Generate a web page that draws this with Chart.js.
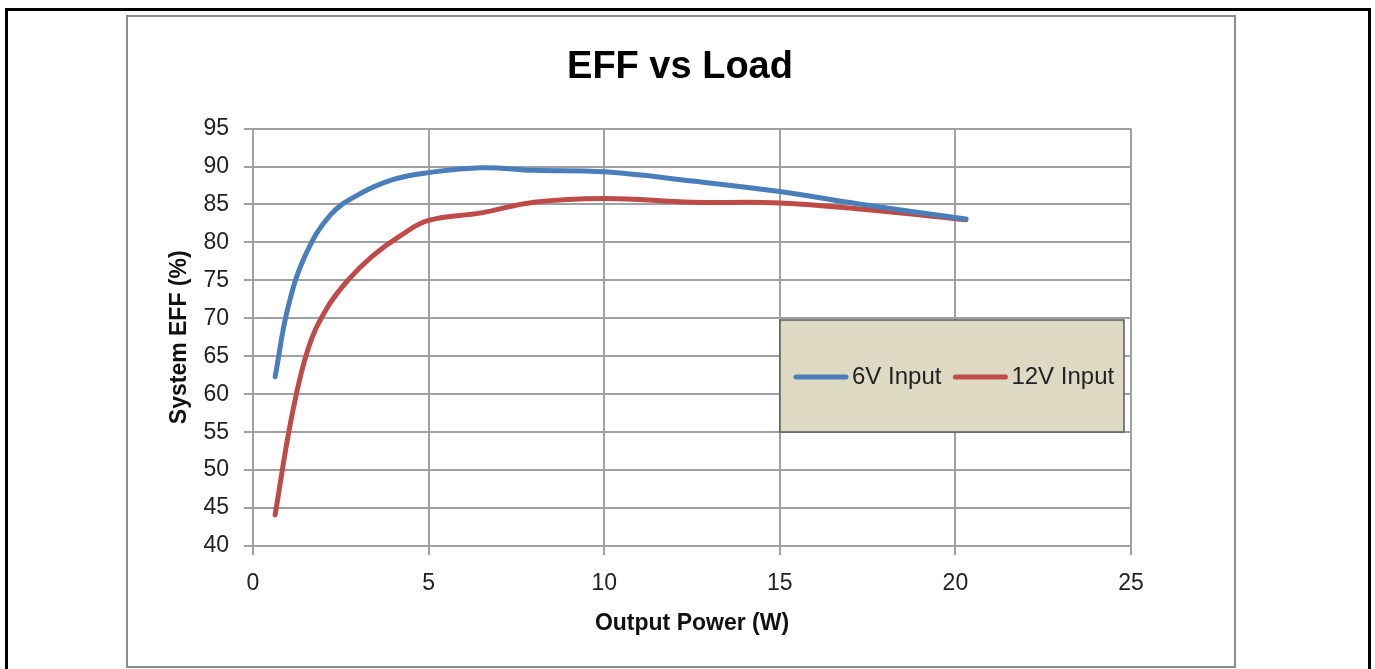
<!DOCTYPE html>
<html>
<head>
<meta charset="utf-8">
<script src="https://cdn.jsdelivr.net/npm/chart.js@4.4.0/dist/chart.umd.min.js"></script>
<style>
  html, body { margin: 0; padding: 0; background: #fff; overflow: hidden; }
  #outer { position: absolute; left: 5px; top: 8px; width: 1360px; height: 700px; border: 3px solid #000; }
  #inner { position: absolute; left: 126px; top: 15px; width: 1106px; height: 649px; border: 2px solid #8c8c8c; }
  #chart { position: absolute; left: 0; top: 0; }
</style>
</head>
<body>
<div id="outer"></div>
<div id="inner"></div>
<canvas id="chart" width="1375" height="669"></canvas>
<script>
// data
var seriesNames = ["6V Input", "12V Input"];
var seriesColors = ["#4a7ebb", "#be4b48"];

var power6V = [0.63, 1.0, 1.5, 2.2, 3.0, 4.0, 5.0, 6.5, 8.0, 10.0, 12.5, 15.0, 17.5, 20.3];
var eff6V   = [62.3, 71.5, 78.4, 83.6, 86.3, 88.3, 89.2, 89.85, 89.5, 89.3, 88.1, 86.7, 84.9, 83.1];

var power12V = [0.63, 1.1, 1.57, 2.1, 2.7, 3.4, 4.2, 5.0, 6.5, 8.0, 10.0, 12.5, 15.0, 17.5, 20.3];
var eff12V   = [44.1, 57.0, 66.0, 71.3, 75.0, 78.2, 80.9, 82.9, 83.9, 85.3, 85.8, 85.3, 85.2, 84.3, 83.0];

var xTicks = [0, 5, 10, 15, 20, 25];
var yTicks = [40, 45, 50, 55, 60, 65, 70, 75, 80, 85, 90, 95];

function toPoints(xs, ys) {
	return xs.map(function(x, i) { return { x: x, y: ys[i] }; });
}

var gridColor = "#a0a0a0";
var font = "'Liberation Sans', Arial, sans-serif";

// legend box sitting inside the plot, like the Excel one
var boxLegend = {
	id: "boxLegend",
	afterDatasetsDraw: function(chart) {
		var c = chart.ctx;
		var bx = 780, by = 320, bw = 344, bh = 112;
		c.save();
		c.fillStyle = "#ddd9c3";
		c.fillRect(bx, by, bw, bh);
		c.strokeStyle = "#5a5a5a";
		c.lineWidth = 1.5;
		c.strokeRect(bx, by, bw, bh);
		c.font = "24px " + font;
		c.textBaseline = "middle";
		c.fillStyle = "#222";
		var yMid = by + bh / 2 + 1;
		var x = bx + 14;
		chart.data.datasets.forEach(function(ds) {
			c.strokeStyle = ds.borderColor;
			c.lineWidth = 5;
			c.lineCap = "round";
			c.beginPath();
			c.moveTo(x + 2, yMid);
			c.lineTo(x + 52, yMid);
			c.stroke();
			c.fillText(ds.label, x + 58, yMid);
			x += 58 + c.measureText(ds.label).width + 12;
		});
		c.restore();
	}
};

var ctx = document.getElementById("chart");

var chart = new Chart(ctx, {
	type: "line",
	data: {
		datasets: [
			{
				label: seriesNames[0],
				data: toPoints(power6V, eff6V),
				borderColor: seriesColors[0],
				backgroundColor: seriesColors[0],
				borderWidth: 5,
				borderCapStyle: "round",
				pointRadius: 0,
				tension: 0.4,
				fill: false
			},
			{
				label: seriesNames[1],
				data: toPoints(power12V, eff12V),
				borderColor: seriesColors[1],
				backgroundColor: seriesColors[1],
				borderWidth: 5,
				borderCapStyle: "round",
				pointRadius: 0,
				tension: 0.4,
				fill: false
			}
		]
	},
	options: {
		responsive: false,
		animation: false,
		devicePixelRatio: 1,
		layout: { padding: { left: 0, right: 15, top: 0, bottom: 0 } },
		plugins: {
			legend: { display: false },
			tooltip: { enabled: false },
			title: {
				display: true,
				text: "EFF vs Load",
				color: "#000",
				font: { family: font, size: 38, weight: "bold" },
				padding: { top: 45, bottom: 38 }
			}
		},
		scales: {
			x: {
				type: "linear",
				min: 0,
				max: 25,
				afterBuildTicks: function(s) { s.ticks = xTicks.map(function(v) { return { value: v }; }); },
				afterFit: function(s) { s.height = 123; },
				grid: { color: gridColor, lineWidth: 2, tickLength: 9 },
				border: { color: gridColor, width: 2 },
				ticks: { color: "#222", font: { family: font, size: 23 }, padding: 15, maxRotation: 0 },
				title: {
					display: true,
					text: "Output Power (W)",
					color: "#111",
					font: { family: font, size: 23, weight: "bold" },
					padding: { top: 0, bottom: 32 }
				}
			},
			y: {
				min: 40,
				max: 95,
				afterBuildTicks: function(s) { s.ticks = yTicks.map(function(v) { return { value: v }; }); },
				afterFit: function(s) { s.width = 253; },
				grid: { color: gridColor, lineWidth: 2, tickLength: 9 },
				border: { color: gridColor, width: 2 },
				ticks: { color: "#222", font: { family: font, size: 23 }, padding: 15 },
				title: {
					display: true,
					text: "System EFF (%)",
					color: "#111",
					font: { family: font, size: 23, weight: "bold" },
					padding: { top: 166, bottom: 0 }
				}
			},
			// empty right axis, only keeps the plot off the right side so the title stays centred
			yRight: {
				position: "right",
				display: true,
				grid: { display: false },
				border: { display: false },
				ticks: { display: false },
				afterFit: function(s) { s.width = 229; }
			}
		}
	},
	plugins: [boxLegend]
});
</script>
</body>
</html>
